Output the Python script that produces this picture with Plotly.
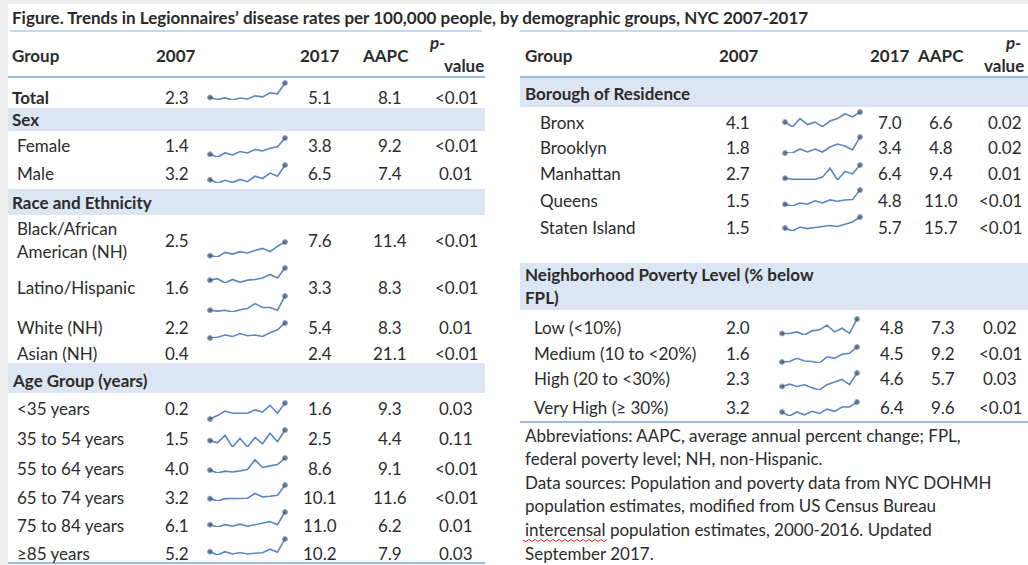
import plotly.graph_objects as go

W, H = 1028, 565
FONT = "Lato"
INK = "#2b2b2b"
BAND = "#dce6f2"
RULE = "#9bbbe0"
RULE_LIGHT = "#c3d7ee"
SPARK = "#5b86c2"
DOT = "#2f3b4c"
FS = 17

title = "Figure. Trends in Legionnaires’ disease rates per 100,000 people, by demographic groups, NYC 2007-2017"

# ---------------- data: left table ----------------
left_labels = ["Total", "Female", "Male", "Black/African\nAmerican (NH)", "Latino/Hispanic",
               "White (NH)", "Asian (NH)", "<35 years", "35 to 54 years", "55 to 64 years",
               "65 to 74 years", "75 to 84 years", "≥85 years"]
left_2007 = [2.3, 1.4, 3.2, 2.5, 1.6, 2.2, 0.4, 0.2, 1.5, 4.0, 3.2, 6.1, 5.2]
left_2017 = [5.1, 3.8, 6.5, 7.6, 3.3, 5.4, 2.4, 1.6, 2.5, 8.6, 10.1, 11.0, 10.2]
left_aapc = [8.1, 9.2, 7.4, 11.4, 8.3, 8.3, 21.1, 9.3, 4.4, 9.1, 11.6, 6.2, 7.9]
left_p = ["<0.01", "<0.01", "0.01", "<0.01", "<0.01", "0.01", "<0.01",
          "0.03", "0.11", "<0.01", "<0.01", "0.01", "0.03"]
left_sections = ["Sex", "Race and Ethnicity", "Age Group (years)"]

# ---------------- data: right table ----------------
right_labels = ["Bronx", "Brooklyn", "Manhattan", "Queens", "Staten Island",
                "Low (<10%)", "Medium (10 to <20%)", "High (20 to <30%)", "Very High (≥ 30%)"]
right_2007 = [4.1, 1.8, 2.7, 1.5, 1.5, 2.0, 1.6, 2.3, 3.2]
right_2017 = [7.0, 3.4, 6.4, 4.8, 5.7, 4.8, 4.5, 4.6, 6.4]
right_aapc = [6.6, 4.8, 9.4, 11.0, 15.7, 7.3, 9.2, 5.7, 9.6]
right_p = ["0.02", "0.02", "0.01", "<0.01", "<0.01", "0.02", "<0.01", "0.03", "<0.01"]
right_sections = ["Borough of Residence", "Neighborhood Poverty Level (% below\nFPL)"]

# ---------------- data: sparklines, yearly rates 2007..2017 ----------------
years = list(range(2007, 2018))
spark_total = [2.3, 1.9, 2.2, 1.8, 2.2, 2.0, 2.6, 2.4, 3.2, 3.0, 5.1]
spark_female = [1.4, 1.0, 1.6, 1.3, 1.8, 1.6, 2.1, 1.9, 2.3, 2.5, 3.8]
spark_male = [3.2, 2.5, 3.1, 2.6, 3.3, 2.8, 4.0, 3.5, 4.7, 4.0, 6.5]
spark_black = [2.5, 2.0, 3.7, 3.1, 4.0, 3.5, 4.4, 5.2, 4.0, 6.0, 7.6]
spark_latino = [1.6, 1.8, 1.2, 1.7, 1.3, 1.6, 1.7, 1.9, 2.4, 1.9, 3.3]
spark_white = [2.2, 2.0, 2.2, 1.8, 2.3, 2.6, 3.7, 2.8, 2.8, 2.2, 5.4]
spark_asian = [0.4, 0.5, 0.8, 0.6, 1.0, 0.7, 0.8, 0.6, 1.1, 1.5, 2.4]
spark_lt35 = [0.2, 0.5, 0.9, 0.7, 0.7, 0.7, 1.0, 0.8, 1.4, 0.7, 1.6]
spark_35_54 = [1.5, 1.3, 2.0, 0.9, 1.7, 0.9, 1.8, 1.2, 2.2, 1.4, 2.5]
spark_55_64 = [4.0, 2.9, 3.6, 3.3, 3.7, 4.2, 7.9, 5.0, 5.6, 6.1, 8.6]
spark_65_74 = [3.2, 2.0, 3.2, 3.2, 3.2, 3.4, 5.8, 4.1, 4.4, 4.9, 10.1]
spark_75_84 = [6.1, 5.2, 6.1, 5.5, 6.3, 5.5, 6.1, 6.7, 7.3, 6.1, 11.0]
spark_85 = [5.2, 3.9, 5.2, 4.3, 4.9, 4.3, 4.6, 4.8, 6.2, 5.0, 10.2]
spark_bronx = [4.1, 2.7, 5.1, 3.4, 4.1, 2.8, 4.4, 5.1, 6.5, 5.6, 7.0]
spark_brooklyn = [1.8, 1.8, 2.2, 1.9, 2.2, 1.9, 2.4, 2.7, 2.5, 2.1, 3.4]
spark_manhattan = [2.7, 2.4, 2.4, 2.4, 2.4, 3.0, 5.5, 2.2, 4.6, 3.9, 6.4]
spark_queens = [1.5, 1.1, 1.8, 1.5, 2.3, 1.8, 2.5, 2.2, 2.5, 2.6, 4.8]
spark_staten = [1.5, 0.4, 1.9, 1.3, 1.7, 2.1, 2.5, 2.1, 2.9, 3.8, 5.7]
spark_low = [2.0, 2.0, 2.3, 1.7, 2.5, 2.7, 3.6, 2.3, 3.0, 2.0, 4.8]
spark_medium = [1.6, 1.7, 2.3, 1.8, 1.7, 1.4, 2.6, 2.3, 3.1, 3.3, 4.5]
spark_high = [2.3, 2.7, 2.3, 2.6, 2.1, 1.7, 2.6, 3.0, 3.5, 2.6, 4.6]
spark_vhigh = [3.2, 1.9, 3.2, 2.3, 3.4, 2.7, 4.1, 3.4, 4.8, 4.8, 6.4]

sparks = [spark_total, spark_female, spark_male, spark_black, spark_latino, spark_white,
          spark_asian, spark_lt35, spark_35_54, spark_55_64, spark_65_74, spark_75_84,
          spark_85, spark_bronx, spark_brooklyn, spark_manhattan, spark_queens,
          spark_staten, spark_low, spark_medium, spark_high, spark_vhigh]

abbrev_lines = ["Abbreviations: AAPC, average annual percent change; FPL,",
                "federal poverty level; NH, non-Hispanic.",
                "Data sources: Population and poverty data from NYC DOHMH",
                "population estimates, modified from US Census Bureau",
                "intercensal population estimates, 2000-2016. Updated",
                "September 2017."]

# ---------------- positions (pixels, y from top) ----------------
left_row_y = [97, 145, 173, 240, 287, 327, 353, 408, 438, 468, 497, 525, 553]
left_label_x = [10] + [15] * 12
left_sec_y = [119, 202, 380]
left_bands = [(108, 131), (189, 215), (363, 393)]
left_cols = dict(v07=177, v17=320, aapc=390, p=456)

right_row_y = [122, 147, 173, 200, 227, 327, 353, 378, 407]
right_label_x = [538] * 5 + [532] * 4
right_cols = ([dict(v07=738, v17=890, aapc=941, p=1024, pa="right")] * 5
              + [dict(v07=738, v17=892, aapc=943, p=1000, pa="center")] * 4)
right_sec_y = [93, 286]
right_bands = [(78, 107), (263, 310)]

# sparkline boxes: x0, x1, y_top, y_bottom
spark_boxes = [(210, 285, 83, 100), (210, 285, 138, 157), (210, 285, 165, 183),
               (210, 285, 242, 257), (210, 285, 268, 283), (210, 285, 296, 312),
               (210, 285, 323, 338), (210, 285, 403, 419), (210, 285, 430, 447),
               (210, 285, 458, 473), (210, 285, 485, 501), (210, 285, 512, 527),
               (210, 285, 539, 555),
               (785, 860, 112, 127), (785, 860, 137, 153), (785, 860, 165, 180),
               (785, 860, 190, 206), (785, 860, 217, 231),
               (782, 857, 319, 335), (782, 857, 347, 363), (782, 857, 373, 390),
               (782, 857, 402, 416)]

fig = go.Figure()
ann = []
shapes = []


def esc(s):
    return s.replace("<", "&lt;")


def txt(x, y, s, anchor="left", bold=False, size=FS, italic=False):
    s = esc(s)
    if bold:
        s = "<b>" + s + "</b>"
    if italic:
        s = "<i>" + s + "</i>"
    ann.append(dict(x=x, y=y, xref="x", yref="y", text=s, showarrow=False,
                    xanchor=anchor, yanchor="middle",
                    font=dict(family=FONT, size=size, color=INK)))


def label(x, y, s, bold=False):
    lines = s.split("\n")
    if len(lines) == 1:
        txt(x, y, s, bold=bold)
    else:
        for i, ln in enumerate(lines):
            txt(x, y + (i - (len(lines) - 1) / 2) * 23, ln, bold=bold)


def rect(x0, x1, y0, y1, color):
    shapes.append(dict(type="rect", xref="x", yref="y", x0=x0, x1=x1, y0=y0, y1=y1,
                       fillcolor=color, line=dict(width=0), layer="below"))


def hline(x0, x1, y, color, w=2):
    shapes.append(dict(type="line", xref="x", yref="y", x0=x0, x1=x1, y0=y, y1=y,
                       line=dict(color=color, width=w)))


# background frame
rect(8, W, 4, H, "white")

# title and rules
txt(10, 17, title, bold=True)
hline(10, 482, 31, RULE_LIGHT)
hline(520, W, 31, RULE_LIGHT)

# headers
for gx, c07, c17, ca, px_, vx, va in [(10, 176, 320, 385, 437, 464, "center"),
                                      (523, 739, 890, 940, 1013, 1026, "right")]:
    txt(gx, 55, "Group", bold=True)
    txt(c07, 55, "2007", anchor="center", bold=True)
    txt(c17, 55, "2017", anchor="center", bold=True)
    txt(ca, 55, "AAPC", anchor="center", bold=True)
    txt(px_, 42, "p-", anchor="center", bold=True, italic=True)
    txt(vx, 65, "value", anchor=va, bold=True)
hline(8, 485, 77, RULE)
hline(520, W, 77, RULE)

# section bands
for (y0, y1), s, y in zip(left_bands, left_sections, left_sec_y):
    rect(8, 485, y0, y1, BAND)
    txt(10, y, s, bold=True)
for (y0, y1), s, y in zip(right_bands, right_sections, right_sec_y):
    rect(520, W, y0, y1, BAND)
    label(523, y, s, bold=True)

# left rows
for i, lab in enumerate(left_labels):
    y = left_row_y[i]
    label(left_label_x[i], y, lab, bold=(i == 0))
    txt(left_cols["v07"], y, f"{left_2007[i]:.1f}", anchor="center")
    txt(left_cols["v17"], y, f"{left_2017[i]:.1f}", anchor="center")
    txt(left_cols["aapc"], y, f"{left_aapc[i]:.1f}", anchor="center")
    txt(left_cols["p"], y, left_p[i], anchor="center")
hline(8, 485, 563, RULE)

# right rows
for i, lab in enumerate(right_labels):
    y = right_row_y[i]
    c = right_cols[i]
    label(right_label_x[i], y, lab)
    txt(c["v07"], y, f"{right_2007[i]:.1f}", anchor="center")
    txt(c["v17"], y, f"{right_2017[i]:.1f}", anchor="center")
    txt(c["aapc"], y, f"{right_aapc[i]:.1f}", anchor="center")
    txt(c["p"], y, right_p[i], anchor=c["pa"])
hline(520, W, 422, RULE)

# footnotes
for i, ln in enumerate(abbrev_lines):
    txt(523, 435 + i * 23.6, ln)

# spell-check squiggle under "intercensal"
sq = "M 523 540"
for k in range(1, 29):
    sq += f" L {523 + k * 3} {540 + (1.5 if k % 2 else -0.5)}"
shapes.append(dict(type="path", xref="x", yref="y", path=sq,
                   line=dict(color="#e03030", width=1)))

# sparklines, each on its own tiny axis pair
layout_axes = {}
for k, (vals, (x0, x1, yt, yb)) in enumerate(zip(sparks, spark_boxes), start=2):
    xa, ya = f"xaxis{k}", f"yaxis{k}"
    lo, hi = min(vals), max(vals)
    layout_axes[xa] = dict(domain=[x0 / W, x1 / W], range=[years[0], years[-1]],
                           visible=False, anchor=f"y{k}")
    layout_axes[ya] = dict(domain=[1 - yb / H, 1 - yt / H], range=[lo, hi],
                           visible=False, anchor=f"x{k}")
    sizes = [5] + [0] * (len(vals) - 2) + [5]
    fig.add_trace(go.Scatter(x=years, y=vals, xaxis=f"x{k}", yaxis=f"y{k}",
                             mode="lines+markers", cliponaxis=False,
                             line=dict(color=SPARK, width=1.6),
                             marker=dict(size=sizes, color=DOT),
                             showlegend=False, hoverinfo="skip"))

fig.update_layout(
    width=W, height=H,
    margin=dict(l=0, r=0, t=0, b=0),
    paper_bgcolor="#ededed", plot_bgcolor="rgba(0,0,0,0)",
    xaxis=dict(domain=[0, 1], range=[0, W], visible=False, fixedrange=True),
    yaxis=dict(domain=[0, 1], range=[H, 0], visible=False, fixedrange=True),
    annotations=ann, shapes=shapes, showlegend=False,
    **layout_axes,
)

fig.write_html("out.html", config={"displayModeBar": False},
               post_script="document.body.style.margin='0';document.body.style.overflow='hidden';")
